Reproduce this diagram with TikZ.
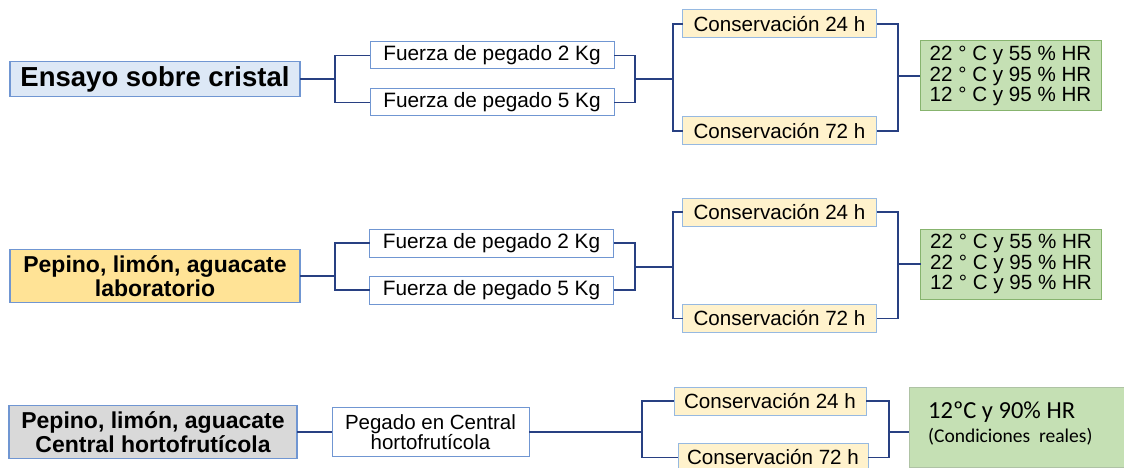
\documentclass[tikz,border=0pt]{standalone}
\usepackage{fontspec}
\setmainfont{Liberation Sans}
\newfontfamily\calib{Carlito}
\definecolor{bordblue}{RGB}{112,150,210}
\definecolor{lineblue}{RGB}{40,64,130}
\definecolor{fillblue}{RGB}{221,232,246}
\definecolor{fillorange}{RGB}{255,227,150}
\definecolor{fillgray}{RGB}{217,217,217}
\definecolor{fillcream}{RGB}{255,242,204}
\definecolor{bordcream}{RGB}{150,185,225}
\definecolor{fillgreen}{RGB}{197,224,180}
\definecolor{bordgreen}{RGB}{135,180,110}
\definecolor{bordgreenb}{RGB}{175,195,165}
\begin{document}
\begin{tikzpicture}[x=1pt,y=-1pt,
 box/.style={draw, inner sep=0pt, outer sep=0pt, align=center, text=black},
 title/.style={box, draw=bordblue, line width=1.5pt, font=\bfseries\fontsize{23}{24}\selectfont},
 force/.style={box, draw=bordblue, line width=1pt, fill=white, minimum width=244pt, minimum height=27pt, font=\fontsize{20.8}{20}\selectfont},
 cons/.style={box, draw=bordcream, line width=1pt, fill=fillcream, minimum width=194pt, minimum height=28pt, font=\fontsize{20.6}{20}\selectfont},
 cond/.style={box, draw=bordgreen, line width=1pt, fill=fillgreen, minimum width=181pt, minimum height=70pt, font=\fontsize{20.6}{20.5}\selectfont},
 conn/.style={draw=lineblue, line width=1.2pt}
]
\useasboundingbox (0,0) rectangle (1124,468);

% ---------- Row 1 ----------
\node[title, fill=fillblue, minimum width=290pt, minimum height=35pt, font=\bfseries\fontsize{27.5}{28}\selectfont] (e1) at (155,79) {Ensayo sobre cristal};
\node[force] (f1a) at (492,55.5) {Fuerza de pegado 2 Kg};
\node[force] (f1b) at (492,102.5) {Fuerza de pegado 5 Kg};
\node[cons] (c1a) at (779.5,24) {Conservación 24 h};
\node[cons] (c1b) at (779.5,131) {Conservación 72 h};
\node[cond] (g1) at (1010.5,76) {22 ° C y 55 \% HR\\22 ° C y 95 \% HR\\12 ° C y 95 \% HR};
\coordinate (j1) at (335,79);
\coordinate (k1) at (635,79);
\coordinate (m1) at (673,79);
\coordinate (n1) at (898,76);
\draw[conn] (e1.east) -- (j1);
\draw[conn] (f1a.west) -| (j1) |- (f1b.west);
\draw[conn] (f1a.east) -| (k1) |- (f1b.east);
\draw[conn] (k1) -- (m1);
\draw[conn] (c1a.west) -| (m1) |- (c1b.west);
\draw[conn] (c1a.east) -| (n1) |- (c1b.east);
\draw[conn] (n1) -- (g1.west);

% ---------- Row 2 ----------
\node[title, fill=fillorange, minimum width=290pt, minimum height=53pt] (e2) at (155,276) {Pepino, limón, aguacate\\laboratorio};
\node[force, minimum height=28pt] (f2a) at (491.5,243) {Fuerza de pegado 2 Kg};
\node[force, minimum height=28pt] (f2b) at (491.5,290) {Fuerza de pegado 5 Kg};
\node[cons] (c2a) at (779.5,212) {Conservación 24 h};
\node[cons] (c2b) at (779.5,318.5) {Conservación 72 h};
\node[cond] (g2) at (1011,264) {22 ° C y 55 \% HR\\22 ° C y 95 \% HR\\12 ° C y 95 \% HR};
\coordinate (j2) at (335,276);
\coordinate (k2) at (635,267);
\coordinate (m2) at (673,267);
\coordinate (n2) at (898,264);
\draw[conn] (e2.east) -- (j2);
\draw[conn] (f2a.west) -| (j2) |- (f2b.west);
\draw[conn] (f2a.east) -| (k2) |- (f2b.east);
\draw[conn] (k2) -- (m2);
\draw[conn] (c2a.west) -| (m2) |- (c2b.west);
\draw[conn] (c2a.east) -| (n2) |- (c2b.east);
\draw[conn] (n2) -- (g2.west);

% ---------- Row 3 ----------
\node[title, fill=fillgray, minimum width=288pt, minimum height=53pt] (e3) at (153,432) {Pepino, limón, aguacate\\Central hortofrutícola};
\node[force, minimum width=197pt, minimum height=49pt, font=\fontsize{20.5}{20}\selectfont] (p3) at (430.5,432) {Pegado en Central\\hortofrutícola};
\node[cons, minimum width=192pt] (c3a) at (770,401) {Conservación 24 h};
\node[cons, minimum width=190pt] (c3b) at (773,457.5) {Conservación 72 h};
\node[box, draw=bordgreenb, line width=1pt, fill=fillgreen, minimum width=230pt, minimum height=80pt] (g3) at (1024,427) {};
\node[anchor=base west, inner sep=0pt, font=\calib\fontsize{24.5}{25}\selectfont] (g3a) at (928,418) {12ºC y 90\% HR};
\node[anchor=base west, inner sep=0pt, font=\calib\fontsize{19.5}{20}\selectfont] (g3b) at (928,442) {(Condiciones\ \ reales)};
\coordinate (k3) at (642,432);
\coordinate (n3) at (889,432);
\draw[conn] (e3.east) -- (p3.west);
\draw[conn] (p3.east) -- (k3);
\draw[conn] (c3a.west) -| (k3) |- (c3b.west);
\draw[conn] (c3a.east) -| (n3) |- (c3b.east);
\draw[conn] (n3) -- (n3 -| g3.west);
\end{tikzpicture}
\end{document}
